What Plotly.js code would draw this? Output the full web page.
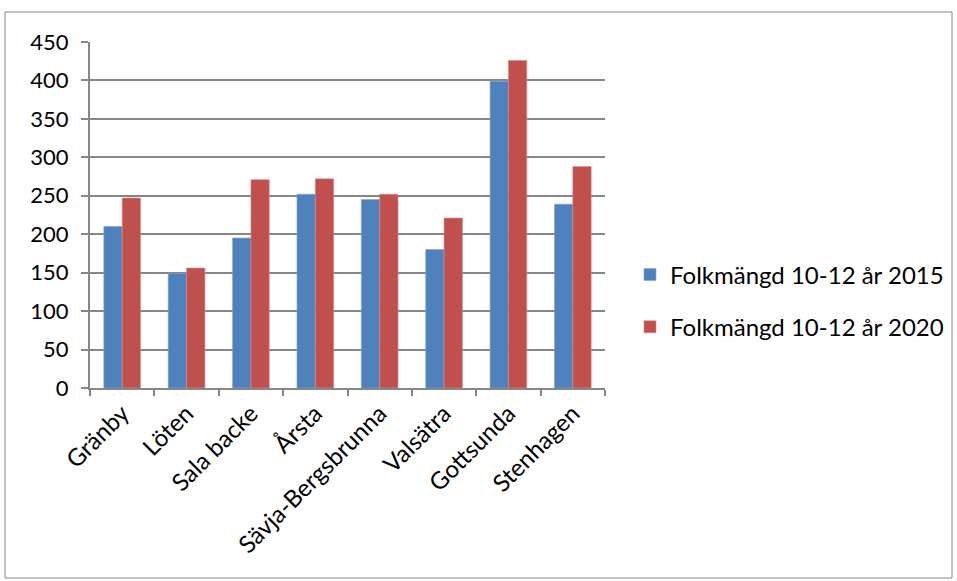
<!DOCTYPE html>
<html>
<head>
<meta charset="utf-8">
<script src="https://cdn.plot.ly/plotly-3.0.1.min.js"></script>
<style>html,body{margin:0;padding:0;background:#fff;}#chart{width:957px;height:581px;}</style>
</head>
<body>
<div id="chart"></div>
<script>
const categories = ["Gränby", "Löten", "Sala backe", "Årsta", "Sävja-Bergsbrunna", "Valsätra", "Gottsunda", "Stenhagen"];
const values2015 = [210, 149, 195, 252, 245, 180, 399, 239];
const values2020 = [247, 156, 271, 272, 252, 221, 426, 288];
const seriesNames = ["Folkmängd 10-12 år 2015", "Folkmängd 10-12 år 2020"];

const gray = "#868686";
const font = {family: "Lato, 'Open Sans', sans-serif", size: 22, color: "#000"};
const xfont = {family: "Lato, 'Open Sans', sans-serif", size: 24, color: "#000"};

const traces = [
  {type: "bar", x: categories, y: values2015, name: seriesNames[0], legendgroup: "a",
   marker: {color: "#4F81BD", line: {color: "#7FA3D3", width: 0.6}}},
  {type: "bar", x: categories, y: values2020, name: seriesNames[1], legendgroup: "b",
   marker: {color: "#C0504D", line: {color: "#D98A88", width: 0.6}}}
];

const layout = {
  width: 957, height: 581,
  margin: {l: 90, r: 352, t: 42, b: 193},
  paper_bgcolor: "#fff", plot_bgcolor: "#fff",
  font: font,
  barmode: "group", bargap: 0.43, bargroupgap: 0,
  showlegend: true,
  legend: {xref: "container", yref: "container", x: 630 / 957, xanchor: "left",
           y: (581 - 301) / 581, yanchor: "middle",
           font: {family: "Lato, 'Open Sans', sans-serif", size: 24, color: "#000"},
           tracegroupgap: 18, itemwidth: 30, traceorder: "grouped"},
  xaxis: {type: "category", showline: true, linecolor: gray, linewidth: 2,
          ticks: "outside", tickson: "boundaries", ticklen: 6, tickcolor: gray, tickwidth: 2,
          tickangle: -45, showgrid: false, tickfont: xfont, automargin: false},
  yaxis: {range: [0, 450], dtick: 50, showline: true, linecolor: gray, linewidth: 2,
          ticks: "outside", ticklen: 7, tickcolor: gray, tickwidth: 2,
          ticklabelstandoff: 8,
          showgrid: true, gridcolor: gray, gridwidth: 2, zeroline: false,
          tickfont: font, automargin: false},
  shapes: [{type: "rect", xref: "paper", yref: "paper",
            x0: (5 - 90) / 515, x1: (952 - 90) / 515,
            y0: (388 - 578) / 346, y1: (388 - 12) / 346,
            line: {color: gray, width: 1}, layer: "below"}]
};

Plotly.newPlot("chart", traces, layout, {displayModeBar: false, staticPlot: true});
</script>
</body>
</html>
